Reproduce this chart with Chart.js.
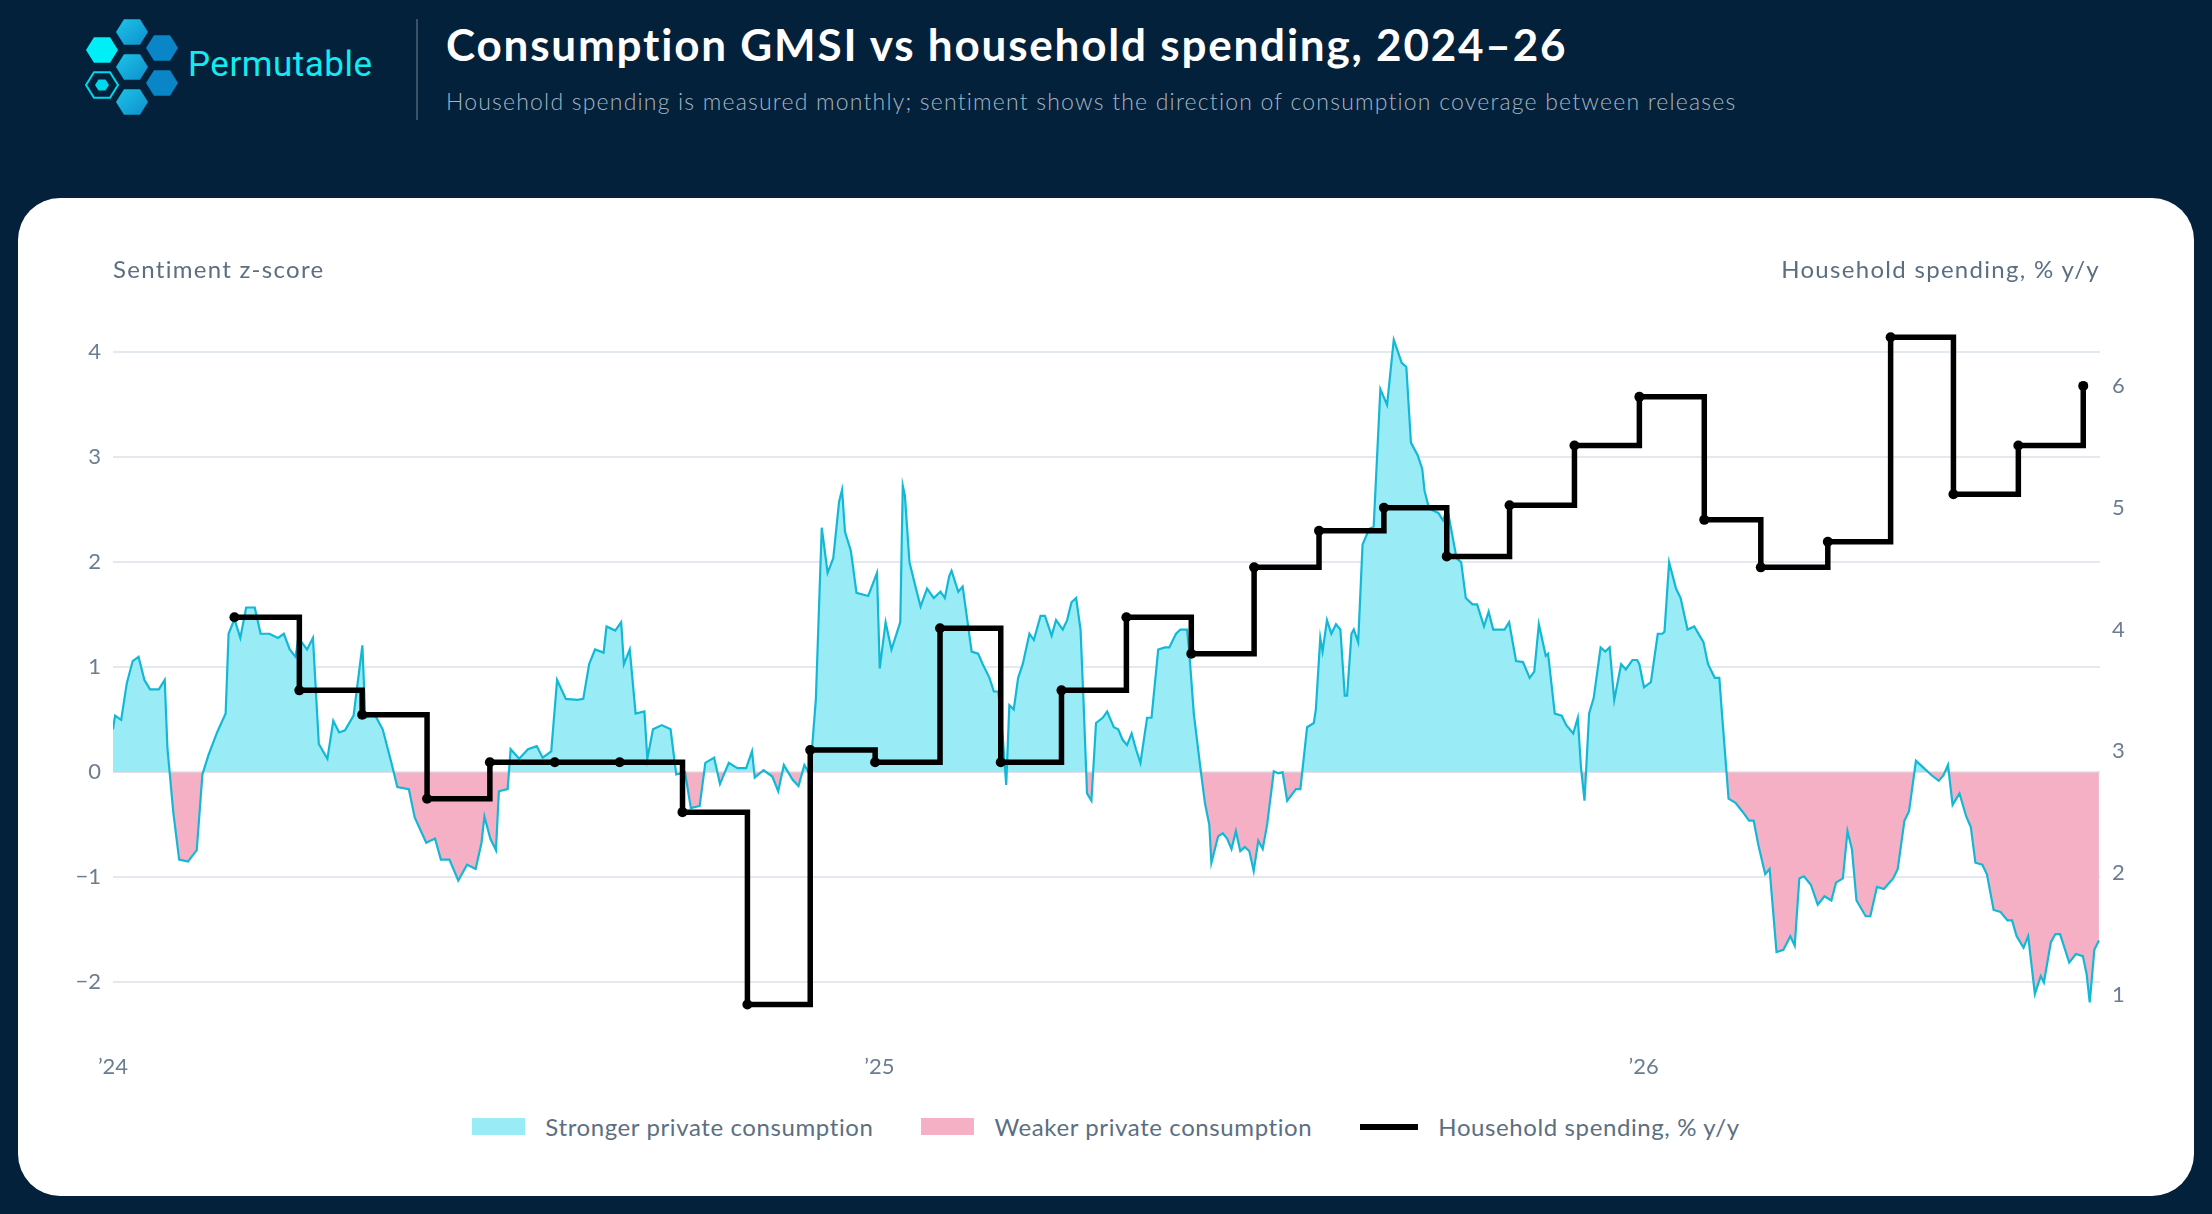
<!DOCTYPE html>
<html><head><meta charset="utf-8">
<script src="https://cdn.jsdelivr.net/npm/chart.js@4.4.1/dist/chart.umd.min.js"></script>
<style>
html,body{margin:0;padding:0;background:#03213a;width:2212px;height:1214px;overflow:hidden;font-family:Lato,"Open Sans",sans-serif;}
#logo{position:absolute;left:0;top:0;}
#brand{position:absolute;left:188px;top:44px;font-size:35px;color:#14eaf2;font-family:Roboto,Lato,sans-serif;letter-spacing:0.5px;}
#div{position:absolute;left:416px;top:19px;width:2px;height:101px;background:#3b5266;}
#title{position:absolute;left:446px;top:18px;font-size:44px;font-weight:700;color:#fff;letter-spacing:1.8px;}
#sub{position:absolute;left:446px;top:87px;font-size:23px;color:#a7b4c2;font-weight:300;letter-spacing:1.2px;}
#card{position:absolute;left:18px;top:198px;width:2176px;height:998px;background:#fff;border-radius:42px;}
#cw{position:absolute;left:18px;top:198px;width:2176px;height:892px;}
.at{position:absolute;top:254px;font-size:24px;color:#5c6f82;letter-spacing:1.3px;}
#leg{position:absolute;left:18px;width:2176px;top:1112px;display:flex;justify-content:center;align-items:center;font-size:24px;color:#5c6f82;letter-spacing:0.6px;}
.sw{display:inline-block;width:53px;height:17px;margin-right:20px;}
.it{display:flex;align-items:center;margin:0 24px;}
</style></head><body>
<svg id="logo" width="190" height="130">
<defs><linearGradient id="g1" x1="0" y1="0" x2="1" y2="1"><stop offset="0" stop-color="#1cc4e6"/><stop offset="1" stop-color="#0f8fce"/></linearGradient></defs>
<g id="hx"></g>
</svg>
<div id="brand">Permutable</div>
<div id="div"></div>
<div id="title">Consumption GMSI vs household spending, 2024–26</div>
<div id="sub">Household spending is measured monthly; sentiment shows the direction of consumption coverage between releases</div>
<div id="card"></div>
<div id="cw"><canvas id="c"></canvas></div>
<div class="at" style="left:113px">Sentiment z-score</div>
<div class="at" style="right:112px">Household spending, % y/y</div>
<div id="leg">
<div class="it"><span class="sw" style="background:#99ebf5"></span>Stronger private consumption</div>
<div class="it"><span class="sw" style="background:#f5b0c5"></span>Weaker private consumption</div>
<div class="it"><span class="sw" style="background:#000;height:6px;width:58px"></span>Household spending, % y/y</div>
</div>
<script>
// logo hexagons
(function(){
 const hexes=[[102,50,'#00eef5',0],[132,32,'url(#g1)',0],[162,48,'#0a86c8',0],[132,67,'url(#g1)',0],[102,85,'#00d8ee',1],[162,83,'#0a86c8',0],[132,102,'url(#g1)',0]];
 const g=document.getElementById('hx');
 function pts(cx,cy,r){let s=[];for(let i=0;i<6;i++){const a=Math.PI/3*i;s.push((cx+r*Math.cos(a)).toFixed(1)+','+(cy+r*0.92*Math.sin(a)).toFixed(1));}return s.join(' ');}
 let h='';
 hexes.forEach(([x,y,c,o])=>{
  if(o){h+=`<polygon points="${pts(x,y,16)}" fill="none" stroke="${c}" stroke-width="2"/><polygon points="${pts(x,y,7)}" fill="${c}"/>`;}
  else h+=`<polygon points="${pts(x,y,16)}" fill="${c}"/>`;
 });
 g.innerHTML=h;
})();

// x values are days since 1 Jan 2024
const xTickDays=[0,366,731];
const xTickLabels=['’24','’25','’26'];
const leftTicks=[-2,-1,0,1,2,3,4];
const rightTicks=[1,2,3,4,5,6];

const spendDays=[58,89,119,150,180,211,242,272,303,333,364,395,424,453,484,515,545,576,607,637,667,698,729,760,787,819,849,879,910,941];
const spendVals=[4.10,3.50,3.30,2.61,2.91,2.91,2.91,2.50,0.92,3.01,2.91,4.01,2.91,3.50,4.10,3.80,4.51,4.81,5.00,4.60,5.02,5.51,5.91,4.90,4.51,4.72,6.40,5.11,5.51,6.00];

const sentDays=[0,1,3.9,6.6,9.4,12.2,15,17.7,21.9,24.7,26,28.8,31.6,35.8,40,42.7,45.5,49.7,53.8,55.2,58,60.8,63.6,67.7,70.5,74.7,78.8,81.6,84.4,87.2,88.5,92.7,95.5,98.3,102.4,105.2,108,110.8,114.9,119.1,120.5,124.7,128.8,133,135.8,141.3,144.1,149.6,153.8,156.6,160.7,164.9,169.1,173.2,176,177.4,180.2,182.9,184.3,188.5,189.9,194,198.2,202.4,205.2,209.3,212.1,216.3,221.8,224.6,227.4,230.2,234.3,235.7,239.9,242.7,244,246.8,249.6,253.8,255.2,257.9,262.1,266.3,269,273.2,276,280.2,282.9,287.1,289.9,294.1,298.2,302.4,305.2,306.5,310.7,314.9,317.7,320.4,324.6,327.4,330.2,332.9,335.7,338.5,341.3,344,346.8,348.2,349.6,352.4,355.1,360.7,364.9,366.2,369,371.8,376,
377.2,378.2,380.4,383.5,385.7,388.8,392,395.2,397.3,399.4,400.5,403.7,405.8,410.1,413.2,415.4,418.6,420.7,422.8,424.9,426.6,428.1,430.2,432.3,434.5,437.7,439.8,443,445.1,448.3,450.4,453.6,455.7,457.8,460,462.1,463.5,465.2,467.3,469.5,472.7,474.8,478,480.1,482.2,484.3,486.5,488.6,490.7,493.9,496,499.2,502.4,504.5,507.7,509.8,513,514,516.2,519.3,521.5,523.6,524.6,527.8,530,532.1,534.2,536.3,538.4,540.6,542.7,544.8,547,549.1,551.2,554.4,556.5,558.6,560.8,565,567.1,570.3,573.5,574.5,576.6,577.7,579.8,581.9,584.1,586.2,588.3,589.4,591.5,592.6,594.7,596.8,600,602.1,605.3,608.5,611.7,
615.5,617.7,619.9,623.1,625.3,626.4,628.6,633,635.2,637.3,641.7,643.9,646.1,649.3,651.5,654.8,657,659.2,662.4,664.6,666.8,670.1,673.4,676.6,678.8,681,684.3,685.4,688.6,691.9,694.1,697.4,699.6,701.1,702.8,705,707.2,710.5,712.7,714.8,717,720.3,722.5,725.7,727.9,729,731.2,734.5,737.8,740,741,743.2,746.5,748.7,752,755.2,759.6,761.8,765,767.2,768.3,771.6,774.9,778.1,781.4,783.6,785.8,789.1,791.2,794.5,797.8,801.1,803.2,805.4,807.6,810.9,814.2,817.4,820.7,822.9,826.2,828.4,830.5,832.7,837.1,839.3,842.5,845.8,850.2,852.4,855.6,857.8,861.1,864.4,868.7,872,874.2,876.4,878.6,881.9,885.1,887.3,889.5,892.8,895,898.2,901.5,904.8,907,909.2,912.5,914.7,917.9,920.7,922.2,925.5,927.7,929.9,934.3,937.5,940.8,942.6,944.1,946.3,948.5];
const sentVals=[0.41,0.54,0.5,0.85,1.06,1.1,0.88,0.79,0.79,0.88,0.23,-0.38,-0.83,-0.85,-0.74,-0.02,0.16,0.38,0.56,1.32,1.46,1.28,1.57,1.57,1.32,1.32,1.28,1.32,1.17,1.1,1.28,1.17,1.28,0.27,0.13,0.49,0.38,0.4,0.54,1.21,0.52,0.56,0.41,0.09,-0.14,-0.16,-0.43,-0.67,-0.63,-0.83,-0.83,-1.03,-0.88,-0.92,-0.67,-0.42,-0.63,-0.74,-0.18,-0.16,0.22,0.13,0.22,0.25,0.14,0.2,0.88,0.7,0.69,0.7,1.03,1.17,1.14,1.39,1.35,1.43,1.03,1.17,0.56,0.58,0.13,0.41,0.45,0.41,-0.02,0,-0.34,-0.32,0.09,0.14,-0.11,0.09,0.04,0.04,0.2,-0.05,0.02,-0.04,-0.18,0.07,-0.07,-0.13,0.07,-0.02,0.7,2.33,1.9,2.04,2.58,2.69,2.29,2.11,1.71,1.68,1.9,0.99,1.43,1.17,1.43,2.73,
2.64,2.0,1.75,1.58,1.75,1.66,1.72,1.66,1.87,1.92,1.72,1.77,1.15,1.13,1.03,0.9,0.77,0.77,0.35,-0.12,0.64,0.6,0.9,1.03,1.32,1.26,1.49,1.49,1.3,1.45,1.36,1.45,1.62,1.66,1.36,0.69,-0.2,-0.27,0.47,0.52,0.58,0.43,0.41,0.31,0.26,0.37,0.22,0.09,0.52,0.52,1.17,1.19,1.19,1.32,1.36,1.36,1.15,0.56,0.05,-0.29,-0.5,-0.86,-0.61,-0.58,-0.63,-0.73,-0.56,-0.75,-0.71,-0.75,-0.94,-0.65,-0.73,-0.5,0.01,-0.01,0,-0.27,-0.16,-0.16,0.43,0.47,0.6,1.28,1.15,1.45,1.32,1.41,1.36,0.73,0.73,1.32,1.36,1.24,2.17,2.32,2.34,3.65,3.5,4.12,3.9,
3.86,3.14,3.02,2.89,2.68,2.51,2.47,2.4,2.51,2.04,2.0,1.66,1.6,1.6,1.39,1.53,1.36,1.36,1.36,1.43,1.06,1.05,0.9,0.96,1.41,1.11,1.13,0.56,0.54,0.45,0.37,0.52,0.05,-0.27,0.56,0.71,1.19,1.15,1.19,0.69,1.03,0.98,1.07,1.07,1.03,0.81,0.86,1.32,1.32,1.34,2.0,1.75,1.66,1.36,1.39,1.24,1.03,0.9,0.9,0.6,-0.25,-0.29,-0.37,-0.46,-0.46,-0.69,-0.97,-0.92,-1.71,-1.69,-1.56,-1.65,-1.01,-0.99,-1.07,-1.26,-1.18,-1.22,-1.05,-1.01,-0.56,-0.73,-1.22,-1.37,-1.37,-1.09,-1.11,-1.01,-0.92,-0.46,-0.37,0.11,0.05,-0.03,-0.08,-0.03,0.07,-0.31,-0.2,-0.42,-0.52,-0.86,-0.88,-0.97,-1.31,-1.33,-1.41,-1.41,-1.56,-1.67,-1.56,-2.11,-1.94,-2.0,-1.62,-1.54,-1.54,-1.81,-1.73,-1.75,-1.92,-2.19,-1.69,-1.6,-1.58];

const sentData=sentDays.map((d,i)=>({x:d,y:sentVals[i]}));
const spendData=spendDays.map((d,i)=>({x:d,y:spendVals[i]}));

const tickFont={family:'Lato',size:22};
const tickColor='#6b7d90';
new Chart(document.getElementById('c'),{
 data:{datasets:[
  {type:'line',data:spendData,yAxisID:'y2',borderColor:'#000',backgroundColor:'#000',borderWidth:5.5,stepped:'before',pointRadius:5,pointBackgroundColor:'#000',pointBorderWidth:0,fill:false,order:0},
  {type:'line',data:sentData,yAxisID:'y',borderColor:'#12b8d6',borderWidth:2.2,pointRadius:0,tension:0,fill:{target:{value:0},above:'#99ebf5',below:'#f5b0c5'},order:1}
 ]},
 options:{
  responsive:true,maintainAspectRatio:false,animation:false,
  layout:{padding:{top:127,left:0,right:0,bottom:0}},
  plugins:{legend:{display:false},tooltip:{enabled:false}},
  scales:{
   x:{type:'linear',min:0,max:949,grid:{display:false},border:{display:false},
      afterBuildTicks:s=>{s.ticks=xTickDays.map(v=>({value:v}));},
      afterFit:s=>{s.height=74;},
      ticks:{font:tickFont,color:tickColor,padding:30,maxRotation:0,callback:(v)=>{const i=xTickDays.indexOf(v);return i>=0?xTickLabels[i]:'';}}},
   y:{position:'left',min:-2.32,max:4.26,border:{display:false},grid:{color:'#e4e9ef',lineWidth:2,drawTicks:false},
      afterBuildTicks:s=>{s.ticks=leftTicks.map(v=>({value:v}));},
      afterFit:s=>{s.width=95;},
      ticks:{font:tickFont,color:tickColor,padding:12,callback:v=>v<0?'−'+Math.abs(v):String(v)}},
   y2:{position:'right',min:0.826,max:6.5,border:{display:false},grid:{display:false,drawTicks:false},
      afterBuildTicks:s=>{s.ticks=rightTicks.map(v=>({value:v}));},
      afterFit:s=>{s.width=94;},
      ticks:{font:tickFont,color:tickColor,padding:12}}
  }
 }
});
</script>
</body></html>
